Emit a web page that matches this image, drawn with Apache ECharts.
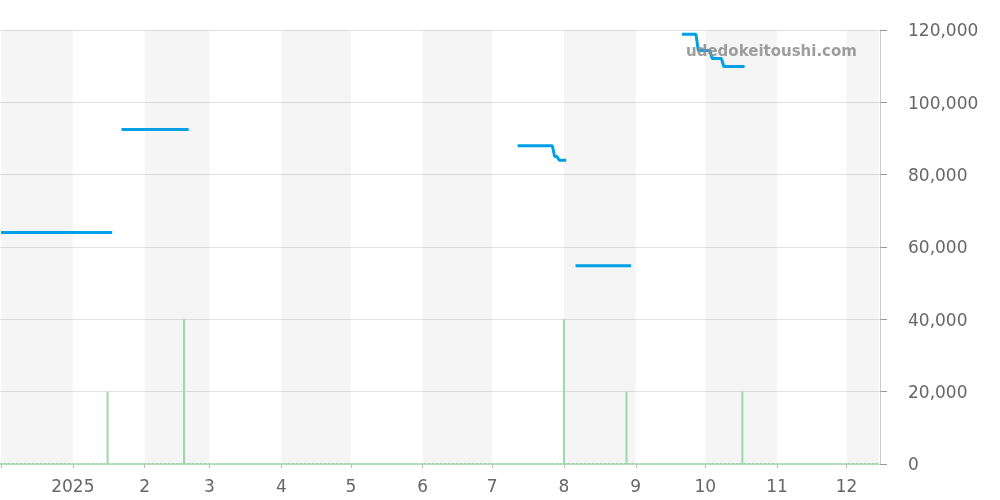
<!DOCTYPE html>
<html>
<head>
<meta charset="utf-8">
<script src="https://cdn.jsdelivr.net/npm/echarts@6/dist/echarts.min.js"></script>
<style>html,body{margin:0;padding:0;background:#fff}#c{width:1000px;height:500px}</style>
</head>
<body>
<div id="c"></div>
<script>
// ---- data ----
const xMin = '2024-12-01';
const xMax = '2025-12-15';
const yTicks = [0, 20000, 40000, 60000, 80000, 100000, 120000];
// price line (null = gap)
const priceDates = [
  '2024-12-01','2025-01-18','2025-01-20',
  '2025-01-22','2025-02-20','2025-02-22',
  '2025-07-12','2025-07-27','2025-07-28','2025-07-29','2025-07-30','2025-08-02','2025-08-04',
  '2025-08-06','2025-08-30','2025-09-01',
  '2025-09-21','2025-09-27','2025-09-28','2025-10-03','2025-10-04','2025-10-08','2025-10-09','2025-10-18'
];
const priceValues = [
  64000, 64000, null,
  92500, 92500, null,
  88000, 88000, 85000, 85000, 84000, 84000, null,
  54800, 54800, null,
  118800, 118800, 114300, 114300, 112100, 112100, 109900, 109900
];
// number of listings (volume)
const volDates = ['2025-01-16','2025-02-18','2025-08-01','2025-08-28','2025-10-17'];
const volValues = [1, 2, 2, 1, 1];
// shaded months
const shadedMonths = [
  ['2024-12-01','2025-01-01'],
  ['2025-02-01','2025-03-01'],
  ['2025-04-01','2025-05-01'],
  ['2025-06-01','2025-07-01'],
  ['2025-08-01','2025-09-01'],
  ['2025-10-01','2025-11-01'],
  ['2025-12-01','2025-12-15']
];
const watermark = 'udedokeitoushi.com';

// ---- chart ----
const chart = echarts.init(document.getElementById('c'), null, {renderer: 'canvas'});
const font = 'DejaVu Sans';
const minTs = new Date(xMin + 'T00:00:00').getTime();
const maxTs = new Date(xMax + 'T00:00:00').getTime();
chart.setOption({
  animation: false,
  backgroundColor: '#fff',
  grid: {left: 0, right: 120, top: 30, bottom: 36, containLabel: false, outerBoundsMode: 'none'},
  xAxis: {
    type: 'time',
    min: xMin,
    max: xMax,
    splitLine: {show: false},
    axisLine: {show: true, lineStyle: {color: '#a8dcb2', type: 'dotted', width: 2}},
    axisTick: {show: true, length: 4, lineStyle: {color: '#bbb'}},
    axisLabel: {
      showMinLabel: false, showMaxLabel: false,
      color: '#666', fontFamily: font, fontSize: 17, margin: 15,
      formatter: function (v) {
        if (v <= minTs + 86400000 || v >= maxTs - 86400000) return '';
        const d = new Date(v);
        return d.getMonth() === 0 ? String(d.getFullYear()) : String(d.getMonth() + 1);
      }
    },
    minInterval: 28 * 86400000,
    maxInterval: 31 * 86400000
  },
  yAxis: [{
    type: 'value',
    position: 'right',
    min: yTicks[0], max: yTicks[yTicks.length - 1], interval: 20000,
    axisLine: {show: true, lineStyle: {color: '#ccc'}},
    axisTick: {show: true, length: 7, lineStyle: {color: '#999'}},
    splitLine: {show: true, lineStyle: {color: '#e2e2e2'}},
    axisLabel: {
      color: '#666', fontFamily: font, fontSize: 17, margin: 28,
      verticalAlign: 'top', lineHeight: 4,
      formatter: function (v) { return v.toLocaleString('en-US'); }
    }
  }, {
    type: 'value',
    min: 0, max: 6,
    show: false,
    splitLine: {show: false}
  }],
  series: [{
    type: 'bar',
    yAxisIndex: 1,
    barWidth: 2,
    itemStyle: {color: '#9ad8a8'},
    data: volDates.map((d, i) => [d, volValues[i]]),
    z: 2
  }, {
    type: 'line',
    yAxisIndex: 0,
    showSymbol: false,
    symbol: 'none',
    connectNulls: false,
    lineStyle: {color: '#00a0e6', width: 3},
    itemStyle: {color: '#00a0e6'},
    data: priceDates.map((d, i) => [d, priceValues[i]]),
    z: 3,
    markArea: {
      silent: true,
      itemStyle: {color: 'rgba(0,0,0,0.04)'},
      data: shadedMonths.map(m => [{xAxis: m[0]}, {xAxis: m[1]}])
    }
  }],
  graphic: [{
    type: 'text',
    left: 686,
    top: 45,
    z: 100,
    style: {
      text: watermark,
      fontFamily: font,
      fontWeight: 'bold',
      fontSize: 15,
      fill: 'rgba(140,140,140,0.85)'
    }
  }]
});
</script>
</body>
</html>
